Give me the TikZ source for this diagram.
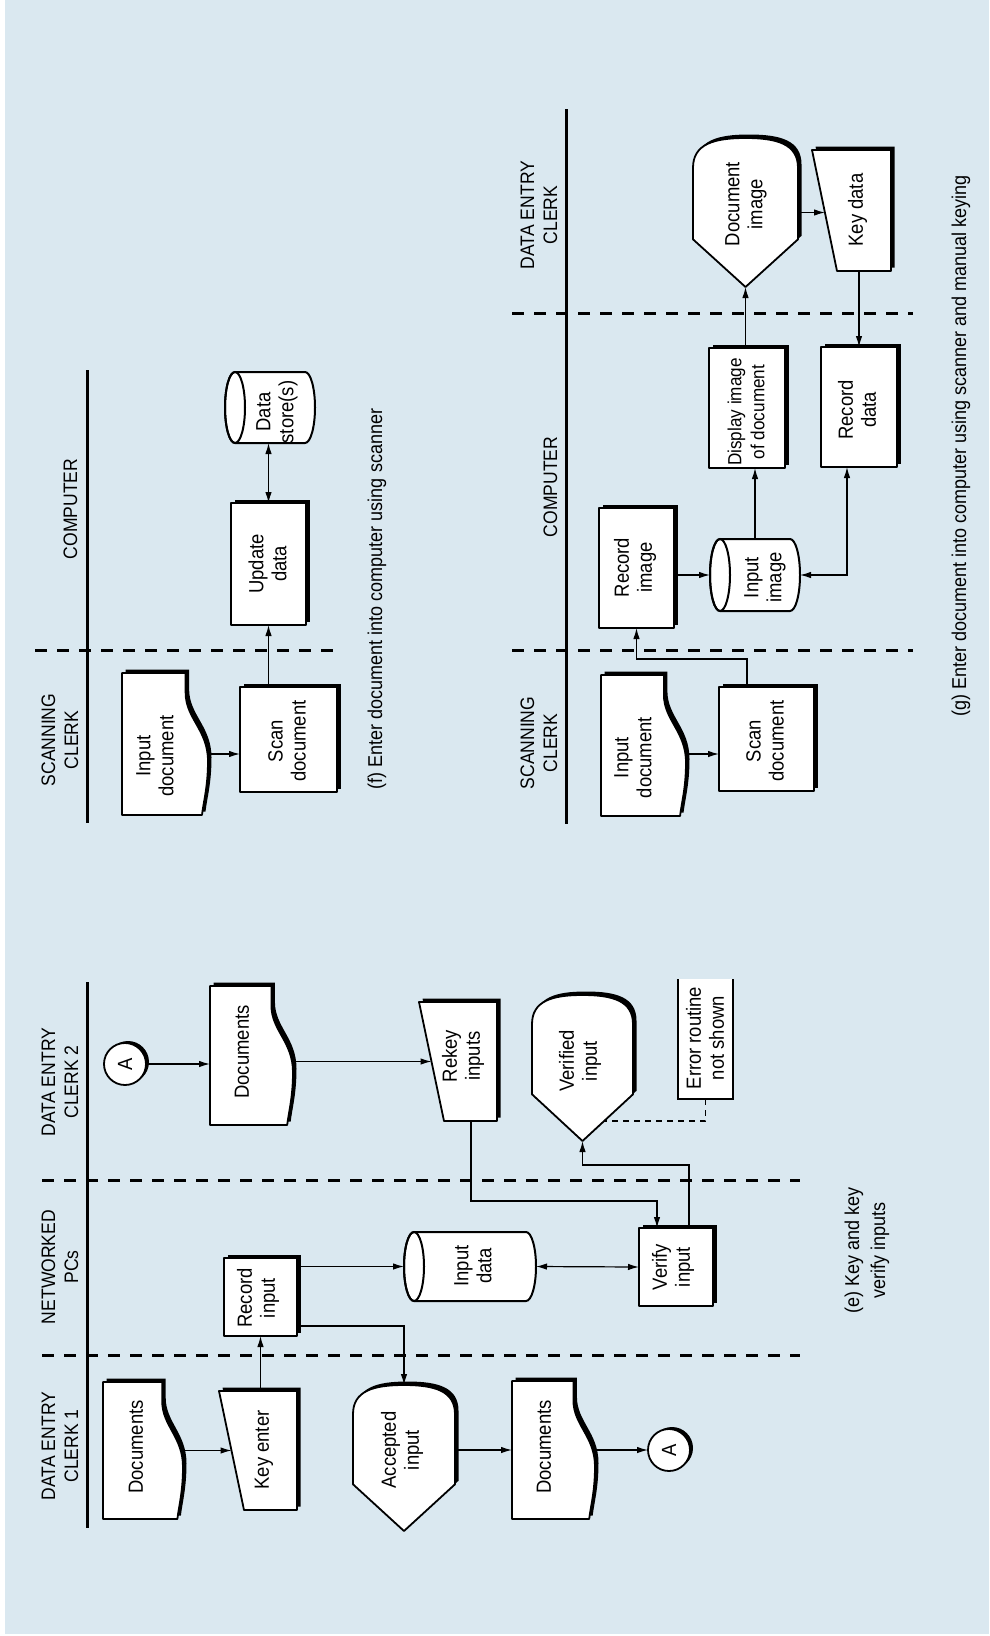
\documentclass[tikz,border=0pt]{standalone}
\usepackage{fontspec}
\setmainfont{Liberation Sans}[FakeStretch=0.9]
\usetikzlibrary{arrows.meta}
\definecolor{bgc}{RGB}{218,232,240}
\tikzset{
 shp/.style={fill=white, draw=black, line width=1.8pt, line join=round},
 shd/.style={fill=black},
 bb/.style={draw=none, inner sep=0pt, outer sep=0pt},
 txt/.style={rotate=90, align=center, font=\fontsize{20.5}{23}\selectfont, inner sep=0pt},
 smtxt/.style={font=\fontsize{19}{22.5}\selectfont},
 lane/.style={rotate=90, align=center, font=\fontsize{19.5}{23}\selectfont, inner sep=0pt},
 captxt/.style={rotate=90, align=center, font=\fontsize{20}{26}\selectfont, inner sep=0pt},
 conn/.style={line width=1.2pt},
 arr/.style={conn, -{Latex[length=11pt,width=6.5pt]}},
 darr/.style={conn, {Latex[length=11pt,width=6.5pt]}-{Latex[length=11pt,width=6.5pt]}},
 lanel/.style={line width=3pt},
 divl/.style={line width=3pt, dash pattern=on 12pt off 10pt},
 errl/.style={line width=1.2pt, dash pattern=on 6pt off 5pt},
}
% name x0 y0 x1 y1 tx ty text  (image coordinates, y downwards)
\newcommand{\PBox}[8]{%
 \fill[shd] ({#2+3.5},{-#3+3.5}) rectangle ({#4+3.5},{-#5+3.5});
 \draw[shp] (#2,-#3) rectangle (#4,-#5);
 \node[bb, minimum width={#4-#2}, minimum height={#5-#3}] (#1) at ({(#2+#4)/2},{-(#3+#5)/2}) {};
 \node[txt] (#1t) at (#6,-#7) {#8};
}
\newcommand{\PDoc}[8]{%
 \pgfmathsetmacro\Wd{#4-#2}\pgfmathsetmacro\Hd{#5-#3}%
 \def\docpath{(#2,-#3) -- ({#2+0.74*\Wd},-#3) -- ({#2+0.74*\Wd},{-(#3+0.14*\Hd)}) .. controls ({#2+0.74*\Wd},{-(#3+0.32*\Hd)}) and (#4,{-(#3+0.40*\Hd)}) .. (#4,{-(#3+0.62*\Hd)}) .. controls (#4,{-(#3+0.80*\Hd)}) and ({#2+0.95*\Wd},{-(#3+0.9*\Hd)}) .. ({#2+0.93*\Wd},-#5) -- (#2,-#5) -- cycle}%
 \fill[shd, shift={(3.5,3.5)}] \docpath;
 \draw[shp] \docpath;
 \node[bb, minimum width={#4-#2}, minimum height={#5-#3}] (#1) at ({(#2+#4)/2},{-(#3+#5)/2}) {};
 \node[txt] (#1t) at (#6,-#7) {#8};
}
\newcommand{\PMan}[8]{%
 \fill[shd] ({#2+3.5},{-#3+3.5}) -- ({#4+3.5},{-#3+3.5}) -- ({#4+3.5},{-#5+3.5}) -- ({#2+25+3.5},{-#5+3.5}) -- cycle;
 \draw[shp] (#2,-#3) -- (#4,-#3) -- (#4,-#5) -- ({#2+25},-#5) -- cycle;
 \node[bb, minimum width={#4-#2}, minimum height={#5-#3}] (#1) at ({(#2+#4)/2},{-(#3+#5)/2}) {};
 \node[txt] (#1t) at (#6,-#7) {#8};
}
\newcommand{\PDisp}[8]{%
 \pgfmathsetmacro\Wd{#4-#2}\pgfmathsetmacro\Hd{#5-#3}\pgfmathsetmacro\Xm{(#2+#4)/2}%
 \def\dpath{(#2,{-(#3+0.2*\Hd)}) .. controls (#2,{-(#3+0.04*\Hd)}) and ({\Xm-0.3*\Wd},-#3) .. (\Xm,-#3) .. controls ({\Xm+0.3*\Wd},-#3) and (#4,{-(#3+0.04*\Hd)}) .. (#4,{-(#3+0.2*\Hd)}) -- (#4,{-(#3+0.68*\Hd)}) -- (\Xm,-#5) -- (#2,{-(#3+0.68*\Hd)}) -- cycle}%
 \fill[shd, shift={(3.5,3.5)}] \dpath;
 \draw[shp] \dpath;
 \node[bb, minimum width={#4-#2}, minimum height={#5-#3}] (#1) at ({(#2+#4)/2},{-(#3+#5)/2}) {};
 \node[txt] (#1t) at (#6,-#7) {#8};
}
\newcommand{\PCyl}[8]{%
 \pgfmathsetmacro\Ry{(#5-#3)/2}\pgfmathsetmacro\Ym{-(#3+#5)/2}%
 \filldraw[shp, line width=2pt] ({#4-10},-#3) arc[start angle=90, end angle=-90, x radius=10, y radius=\Ry] -- ({#2+10},-#5) arc[start angle=270, end angle=90, x radius=10, y radius=\Ry] -- cycle;
 \draw[line width=2pt] ({#2+10},\Ym) ellipse[x radius=10, y radius=\Ry];
 \node[bb, minimum width={#4-#2}, minimum height={#5-#3}] (#1) at ({(#2+#4)/2},{-(#3+#5)/2}) {};
 \node[txt] (#1t) at (#6,-#7) {#8};
}
\newcommand{\PCirc}[4]{%
 \fill[shd] ({#2+3},{-#3+2}) circle[radius=21];
 \draw[shp] (#2,-#3) circle[radius=21];
 \node[bb, circle, minimum size=42pt] (#1) at (#2,-#3) {};
 \node[txt] (#1t) at (#2,-#3) {#4};
}
\begin{document}
\begin{tikzpicture}[x=1pt,y=1pt]
\useasboundingbox (0,0) rectangle (989,-1636);
\fill[white] (0,0) rectangle (989,-1636);
\fill[bgc] (5,0) rectangle (989,-1634);

% ---------------- lanes ----------------
\draw[lanel] (87,-982) -- (87,-1528);
\draw[divl] (42,-1355) -- (800,-1355);
\draw[divl] (42,-1180) -- (800,-1180);
\draw[lanel] (87,-370) -- (87,-823);
\draw[divl] (35,-650) -- (335,-650);
\draw[lanel] (566,-109) -- (566,-824);
\draw[divl] (512,-313) -- (913,-313);
\draw[divl] (512,-650) -- (913,-650);

\node[lane] (hea) at (60,-1446) {DATA ENTRY\\CLERK 1};
\node[lane] (heb) at (60,-1267) {NETWORKED\\PCs};
\node[lane] (hec) at (60,-1082) {DATA ENTRY\\CLERK 2};
\node[lane] (hfa) at (60,-740) {SCANNING\\CLERK};
\node[lane] (hfb) at (70.5,-509) {COMPUTER};
\node[lane] (hga) at (539,-215) {DATA ENTRY\\CLERK};
\node[lane] (hgb) at (550.5,-487) {COMPUTER};
\node[lane] (hgc) at (539,-743) {SCANNING\\CLERK};

% ---------------- panel (e) ----------------
\PDoc{doca}{103}{1382}{183}{1519}{136}{1447}{Documents}
\PMan{keyent}{219}{1391}{297}{1510}{264}{1450}{Key enter}
\PBox{recin}{224}{1258}{297}{1336}{258}{1298}{Record\\input}
\PCyl{indata}{404}{1232}{536}{1301}{473}{1266}{Input\\data}
\PBox{verin}{639}{1228}{713}{1306}{673}{1267}{Verify\\input}
\PDoc{docb}{210}{986}{293}{1125}{242}{1052}{Documents}
\PMan{rekey}{419}{1002}{497}{1121}{463}{1056}{Rekey\\inputs}
\PDisp{verfd}{532}{995}{633}{1141}{580}{1061}{Verified\\input}
\PCirc{conA}{125}{1064}{A}
\PDisp{accin}{353}{1385}{455}{1531}{402}{1450}{Accepted\\input}
\PDoc{docc}{512}{1381}{595}{1519}{544}{1447}{Documents}
\PCirc{conB}{669}{1450}{A}
% annotation
\fill[white] (678,-979) rectangle (733,-1099);
\draw[line width=1.8pt] (678,-979) -- (678,-1099) -- (733,-1099) -- (733,-979);
\node[bb, minimum width=55pt, minimum height=120pt] (err) at (705.5,-1039) {};
\node[txt] (errt) at (705,-1038) {Error routine\\not shown};

\draw[arr] (doca.east) -- ([xshift=12.5pt]keyent.west);
\draw[arr] (keyent.north -| recin) -- (recin.south);
\draw[arr] (recin.east |- indata) -- (indata.west);
\draw[arr] ([yshift=10pt]recin.south east) -| (accin.north);
\draw[darr] (indata.east) -- (verin.west);
\draw[arr] ([xshift=-24pt]verin.north east) -- ++(0,63) -| (verfd.south);
\draw[arr] ([xshift=13pt]rekey.south) -- ++(0,-80) -| ([xshift=-19pt]verin.north);
\draw[arr] (conA.east) -- (conA.east -| docb.west);
\draw[arr] (docb.east |- rekey) -- ([xshift=12.5pt]rekey.west);
\draw[errl] (err.south) |- ([xshift=21pt,yshift=20pt]verfd.south);
\draw[arr] (accin.east |- docc) -- (docc.west);
\draw[arr] (docc.east |- conB) -- (conB.west);
\node[captxt] (cape) at (867,-1250) {(e) Key and key\\verify inputs};

% ---------------- panel (f) ----------------
\PDoc{indocf}{122}{673}{208}{815}{155}{756}{Input\\document}
\PBox{scanf}{240}{687}{337}{792}{287}{741}{Scan\\document}
\PBox{updf}{231}{503}{306}{625}{267.5}{564}{Update\\data}
\PCyl{dsf}{225}{372}{315}{443}{277}{412}{Data\\store(s)}
\draw[arr] ([yshift=-10pt]indocf.east) -- ([yshift=-14.5pt]scanf.west);
\draw[arr] (scanf.north -| updf) -- (updf.south);
\draw[darr] (updf.north) -- (updf.north |- dsf.south);
\node[captxt] (capf) at (377,-599) {(f) Enter document into computer using scanner};

% ---------------- panel (g) ----------------
\PDisp{docimg}{693}{138}{798}{287}{746}{204}{Document\\image}
\PMan{keydata}{812}{150}{891}{271}{857.5}{210}{Key data}
\PBox{dispimg}{709}{348}{785}{468}{746}{412}{{\fontsize{19}{22.5}\selectfont Display image}\\{\fontsize{19}{22.5}\selectfont of document}}
\PBox{recdata}{821}{347}{897}{467}{857}{410}{Record\\data}
\PBox{recimg}{599}{508}{674}{628}{635}{567.5}{Record\\image}
\PCyl{inimg}{710}{539}{800}{611}{765}{577.5}{Input\\image}
\PDoc{indocg}{601}{675}{686}{816}{633}{757.5}{Input\\document}
\PBox{scang}{719}{687}{814}{791}{765}{741}{Scan\\document}
\coordinate (kdw) at ([xshift=13pt]keydata.west);
\draw[arr] ([yshift=-8.5pt]indocg.east) -- ([yshift=-15pt]scang.west);
\draw[arr] ([xshift=-19.5pt]scang.north) -- ++(0,28) -| (recimg.south);
\draw[arr] (recimg.east |- inimg) -- (inimg.west);
\draw[arr] (inimg.north) -- (inimg.north |- dispimg.south);
\draw[darr] (inimg.east) -| ([xshift=-12pt]recdata.south);
\draw[arr] (dispimg.north -| docimg) -- (docimg.south);
\draw[arr] (docimg.east) -- (docimg.east -| kdw);
\draw[arr] (keydata.south -| recdata) -- (recdata.north);
\node[captxt] (capg) at (961,-446) {(g) Enter document into computer using scanner and manual keying};
\end{tikzpicture}
\end{document}
